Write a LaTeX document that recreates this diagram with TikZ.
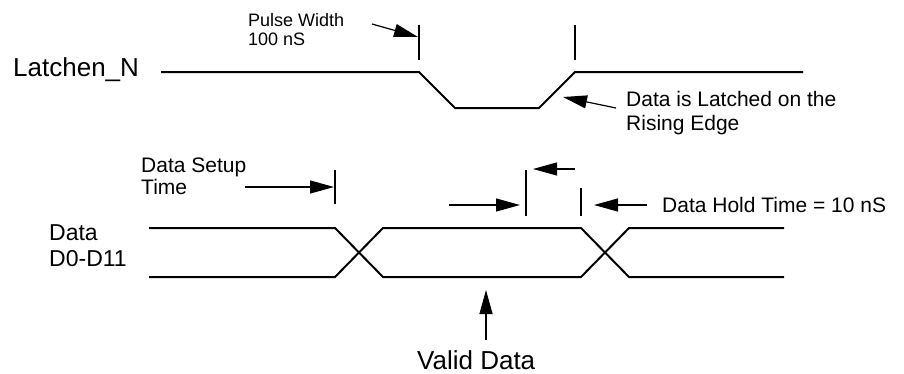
\documentclass[tikz,border=0pt]{standalone}
\usepackage{fontspec}
\setmainfont{Liberation Sans}
\usetikzlibrary{arrows.meta}
\begin{document}
\begin{tikzpicture}[x=1pt,y=-1pt,
  sig/.style={line width=2pt, line join=miter},
  tickmark/.style={line width=2pt},
  ann/.style={line width=1.2pt, -{Triangle[length=24pt,width=13pt]}},
  lbl/.style={inner sep=0pt, align=left},
  lbltop/.style={lbl, anchor=north west},
  lblbase/.style={lbl, anchor=base west}]
\useasboundingbox (0,0) rectangle (904,373);
% ---------- labels ----------
\node[lblbase, font=\fontsize{26}{30}\selectfont] (latch) at (13,76) {Latchen\_N};
\node[lbltop, font=\fontsize{18}{19.5}\selectfont] (pw) at (248,12.9) {Pulse Width\\100 nS};
\node[lbltop, font=\fontsize{21}{24}\selectfont] (lat) at (626,90.7) {Data is Latched on the\\Rising Edge};
\node[lbltop, font=\fontsize{21}{22}\selectfont] (setup) at (141,157.7) {Data Setup\\Time};
\node[lbltop, font=\fontsize{23}{26}\selectfont] (data) at (49,224.2) {Data\\D0-D11};
\node[lblbase, font=\fontsize{21}{24}\selectfont] (hold) at (662,212) {Data Hold Time = 10 nS};
\node[lblbase, font=\fontsize{26}{30}\selectfont] (valid) at (417,369) {Valid Data};
% ---------- Latchen_N waveform ----------
\coordinate (l0) at (161,72);
\coordinate (l1) at (419,72);
\coordinate (l2) at (455,108);
\coordinate (l3) at (539,108);
\coordinate (l4) at (575,72);
\coordinate (l5) at (803,72);
\draw[sig] (l0) -- (l1) -- (l2) -- (l3) -- (l4) -- (l5);
\coordinate (pt1a) at (419,25); \coordinate (pt1b) at (419,60);
\coordinate (pt2a) at (575,25); \coordinate (pt2b) at (575,60);
\draw[tickmark] (pt1a) -- (pt1b);
\draw[tickmark] (pt2a) -- (pt2b);
% ---------- Data waveform ----------
\coordinate (dh0) at (149,228); \coordinate (dl0) at (149,277);
\coordinate (dh1) at (335,228); \coordinate (dl1) at (335,277);
\coordinate (dh2) at (383,228); \coordinate (dl2) at (383,277);
\coordinate (dh3) at (581,228); \coordinate (dl3) at (581,277);
\coordinate (dh4) at (629,228); \coordinate (dl4) at (629,277);
\coordinate (dh5) at (784,228); \coordinate (dl5) at (784,277);
\draw[sig] (dh0) -- (dh1) -- (dl2) -- (dl3) -- (dh4) -- (dh5);
\draw[sig] (dl0) -- (dl1) -- (dh2) -- (dh3) -- (dl4) -- (dl5);
% setup tick
\coordinate (st1) at (335,170); \coordinate (st2) at (335,204);
\draw[tickmark] (st1) -- (st2);
% hold ticks
\coordinate (h1a) at (526,170); \coordinate (h1b) at (526,216);
\coordinate (h2a) at (581,188); \coordinate (h2b) at (581,216);
\draw[tickmark] (h1a) -- (h1b);
\draw[tickmark] (h2a) -- (h2b);
% ---------- annotation arrows ----------
\coordinate (pwA) at (372,24);  \coordinate (pwB) at (418,37);
\draw[ann] (pwA) -- (pwB);
\coordinate (latA) at (616,108); \coordinate (latB) at (563,97);
\draw[ann] (latA) -- (latB);
\coordinate (suA) at (245,187); \coordinate (suB) at (334,187);
\draw[ann] (suA) -- (suB);
\coordinate (htA) at (575,169); \coordinate (htB) at (533,169);
\draw[ann] (htA) -- (htB);
\coordinate (hrA) at (449,205); \coordinate (hrB) at (520,205);
\draw[ann] (hrA) -- (hrB);
\coordinate (hlA) at (647,205); \coordinate (hlB) at (594,205);
\draw[ann] (hlA) -- (hlB);
\coordinate (vdA) at (486,340); \coordinate (vdB) at (486,290);
\draw[ann] (vdA) -- (vdB);
\end{tikzpicture}
\end{document}
